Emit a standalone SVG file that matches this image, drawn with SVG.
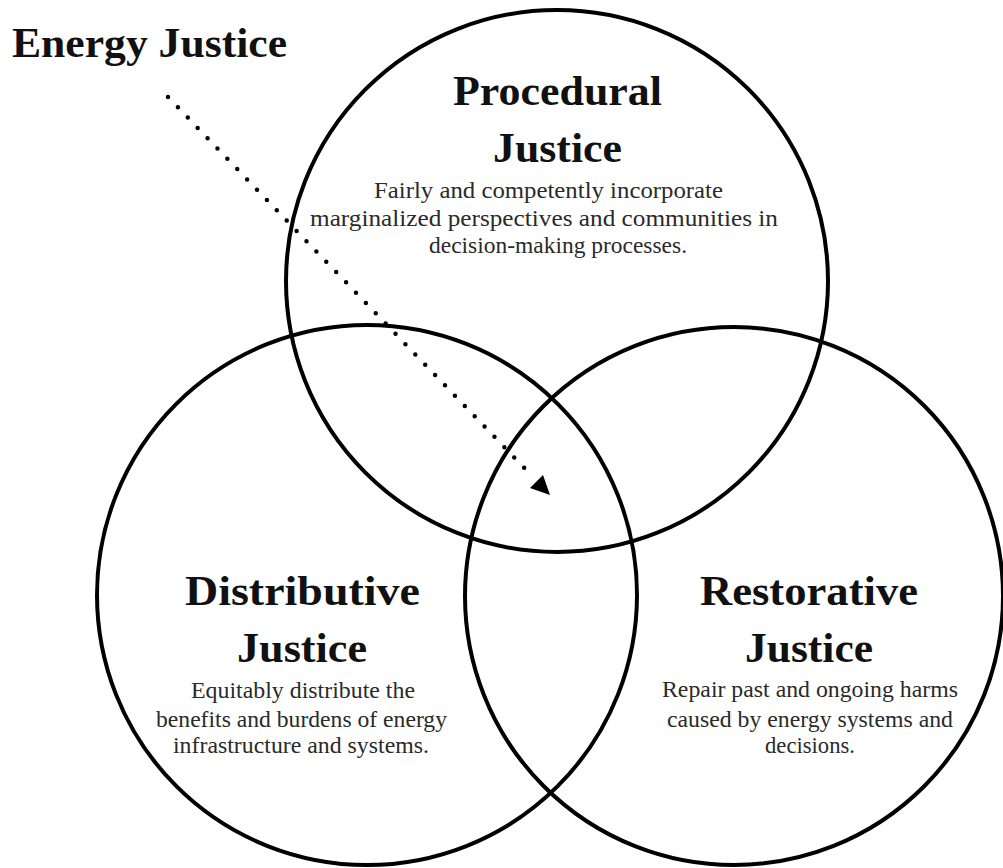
<svg xmlns="http://www.w3.org/2000/svg" width="1003" height="868" viewBox="0 0 1003 868">
<style>
.ring{fill:none;stroke:#000;stroke-width:4}
.title{font-family:"Liberation Serif","Times New Roman",serif;font-weight:bold;font-size:43px;fill:#111}
.desc{font-family:"Liberation Serif","Times New Roman",serif;font-size:22.5px;fill:#2a2a2a}
.dots{fill:none;stroke:#000;stroke-width:4.5;stroke-linecap:round;stroke-dasharray:0 14.28}
</style>
<rect width="1003" height="868" fill="#fff"/>
<g id="node-procedural">
<circle class="ring" cx="557" cy="281" r="271"/>
<text class="title" x="453" y="105" textLength="209" lengthAdjust="spacingAndGlyphs">Procedural</text>
<text class="title" x="493" y="162" textLength="129" lengthAdjust="spacingAndGlyphs">Justice</text>
<text class="desc" x="374" y="198" textLength="349" lengthAdjust="spacingAndGlyphs">Fairly and competently incorporate</text>
<text class="desc" x="310" y="226" textLength="468" lengthAdjust="spacingAndGlyphs">marginalized perspectives and communities in</text>
<text class="desc" x="429" y="253" textLength="258" lengthAdjust="spacingAndGlyphs">decision-making processes.</text>
</g>
<g id="node-distributive">
<circle class="ring" cx="367" cy="595" r="270"/>
<text class="title" x="185" y="605" textLength="235" lengthAdjust="spacingAndGlyphs">Distributive</text>
<text class="title" x="237" y="662" textLength="130" lengthAdjust="spacingAndGlyphs">Justice</text>
<text class="desc" x="191" y="698" textLength="224" lengthAdjust="spacingAndGlyphs">Equitably distribute the</text>
<text class="desc" x="156" y="727" textLength="291" lengthAdjust="spacingAndGlyphs">benefits and burdens of energy</text>
<text class="desc" x="173" y="753" textLength="256" lengthAdjust="spacingAndGlyphs">infrastructure and systems.</text>
</g>
<g id="node-restorative">
<circle class="ring" cx="734" cy="596" r="269"/>
<text class="title" x="700" y="605" textLength="218" lengthAdjust="spacingAndGlyphs">Restorative</text>
<text class="title" x="745" y="662" textLength="128" lengthAdjust="spacingAndGlyphs">Justice</text>
<text class="desc" x="662" y="697" textLength="296" lengthAdjust="spacingAndGlyphs">Repair past and ongoing harms</text>
<text class="desc" x="667" y="727" textLength="286" lengthAdjust="spacingAndGlyphs">caused by energy systems and</text>
<text class="desc" x="765" y="753" textLength="90" lengthAdjust="spacingAndGlyphs">decisions.</text>
</g>
<g id="label-energy-justice">
<text class="title" x="12" y="57" font-size="42" textLength="275" lengthAdjust="spacingAndGlyphs">Energy Justice</text>
</g>
<g id="connectors">
<line class="dots" x1="168" y1="97" x2="534" y2="478"/>
<polygon points="550,495 530,488 543,475" fill="#000"/>
</g>
</svg>
